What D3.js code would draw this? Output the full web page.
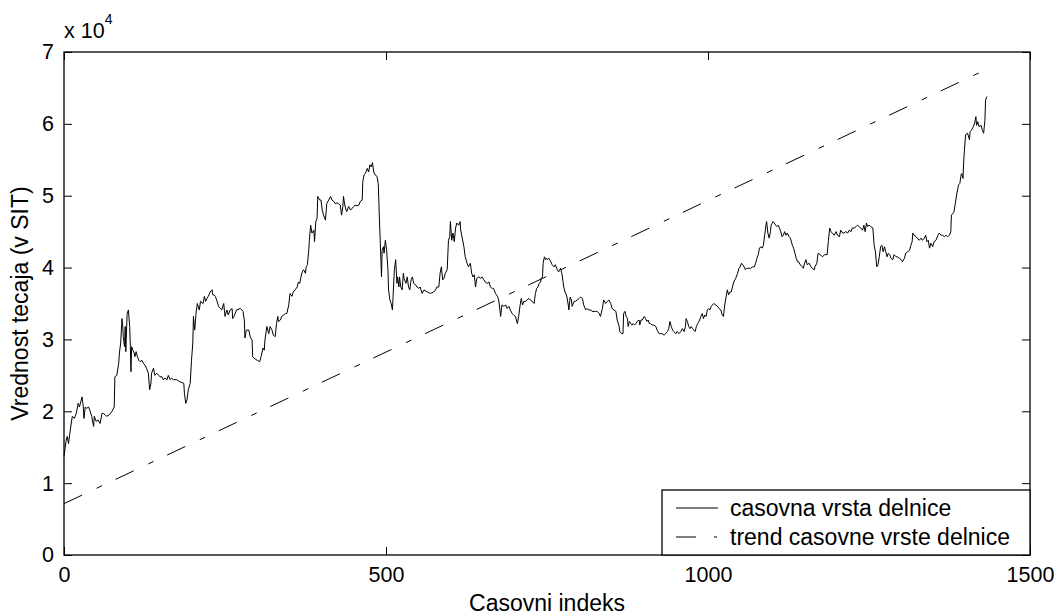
<!DOCTYPE html>
<html lang="sl">
<head>
  <meta charset="utf-8">
  <title>Casovna vrsta delnice</title>
  <script src="https://d3js.org/d3.v7.min.js"></script>
  <style>
    body { margin: 0; background: #fff; }
    text { font-family: "Liberation Sans", Arial, sans-serif; fill: #000; }
  </style>
</head>
<body>
<script>
// casovna vrsta: [indeks, vrednost v SIT] odcitano s slike
var priceSeries = [
  [0,13700],[3,15800],[5,16500],[7,15500],[9,16900],[12,18800],[13,19300],[16,19000],[19,19700],[21,20600],[22,21100],[24,20600],[26,21300],[28,22000],[30,20600],[31,19000],[33,20600],[35,20400],[38,20600],[40,20200],[43,19300],[46,17900],[47,19300],[50,18600],[53,18800],[56,18300],[59,19700],[61,19700],[64,19500],[66,19300],[70,19500],[74,19900],[78,20600],[79,24800],[82,25000],[85,26700],[86,28100],[88,29500],[90,32900],[91,32200],[92,30400],[94,29000],[95,31800],[96,28300],[98,33600],[100,34100],[102,31800],[103,29000],[104,25500],[105,29000],[107,28500],[109,28100],[110,27600],[112,28300],[114,27600],[116,27100],[118,26900],[121,27100],[123,26700],[126,26400],[128,26000],[131,25300],[133,23000],[135,23900],[136,25300],[139,26000],[141,25000],[144,25300],[147,25000],[149,24800],[152,24800],[154,24400],[157,24600],[160,24400],[162,25000],[165,24400],[167,24600],[170,24400],[175,24400],[180,24100],[186,23900],[187,22500],[189,21100],[191,21600],[193,23000],[196,23900],[198,27100],[200,29500],[201,33200],[203,31300],[205,33600],[207,35000],[210,34100],[212,35300],[216,35000],[218,36000],[220,35300],[222,35700],[224,36000],[227,36600],[230,36900],[231,36200],[233,36200],[235,36000],[237,35500],[240,34600],[243,34300],[245,34100],[248,35000],[250,33200],[253,34100],[255,33400],[258,34100],[261,34300],[262,32900],[264,33200],[268,34100],[274,34300],[278,33900],[280,32700],[281,30200],[283,31300],[287,31300],[289,30400],[292,29900],[293,27600],[295,27400],[300,27100],[304,26900],[306,27600],[309,28800],[311,28500],[312,29900],[315,31800],[318,30800],[320,31800],[323,31300],[325,30600],[328,30400],[330,32200],[332,33200],[333,32500],[336,32700],[338,33200],[341,33400],[344,33600],[346,33600],[349,34800],
  [351,36400],[354,36000],[356,36600],[359,36900],[362,37300],[364,38000],[366,37800],[368,38700],[370,39400],[372,39700],[375,39200],[376,40100],[378,40400],[380,42400],[381,43800],[383,45900],[385,44800],[388,45200],[389,43600],[391,46400],[393,46900],[394,49900],[397,49400],[399,49400],[401,48000],[403,47300],[406,46600],[408,48900],[411,49400],[414,49900],[416,49400],[419,49200],[421,48900],[424,49000],[426,48900],[429,48700],[431,47300],[433,48500],[434,49900],[436,48700],[438,48000],[439,47800],[442,48500],[445,48000],[447,48200],[450,48500],[452,48700],[455,48600],[458,48700],[460,49200],[463,49400],[464,52000],[466,52900],[468,53100],[471,53800],[473,53300],[475,54300],[477,54000],[479,54600],[481,53300],[483,52900],[486,52700],[488,51700],[489,48900],[490,46200],[491,43800],[493,38700],[494,42400],[496,42900],[497,42000],[499,43800],[501,42400],[503,39700],[504,36900],[506,35500],[508,35000],[510,34100],[511,36000],[513,39700],[515,41100],[517,37800],[518,38700],[520,37300],[521,38700],[523,37300],[525,36900],[527,39200],[528,38500],[531,37800],[533,38700],[535,37300],[537,36900],[539,38300],[541,38700],[543,37800],[546,37600],[548,37300],[551,37100],[553,37300],[556,36400],[559,36900],[564,36600],[569,36400],[574,36600],[577,36900],[579,37300],[582,37300],[584,39200],[586,40100],[588,38300],[590,38500],[592,39200],[595,39700],[597,43800],[599,44300],[600,46400],[602,43800],[604,44800],[606,43600],[608,45500],[610,46200],[613,45900],[615,46400],[616,45200],[618,44300],[621,42900],[623,41500],[626,40600],[628,40100],[631,40600],[633,39200],[635,38700],[637,39000],[639,37300],[641,38500],[644,38700],[647,38500],[649,38700],[652,38300],[654,38000],[657,37800],[660,38000],[662,37300],[665,37100],[667,37100],[670,36400],[673,36000],[675,35500],[678,33200],[680,34800],[683,34600],[686,34800],[688,34300],[691,34600],[693,34100],[696,33600],[698,33400],[701,33200],[704,32200],[706,33200],[708,34600],[710,35700],[712,34800],[714,35300],[717,35300],[719,35500],[722,35700],
  [724,35500],[727,35300],[730,35000],[731,35700],[732,36400],[734,37100],[736,37300],[738,37800],[740,38000],[741,38500],[743,38700],[744,40600],[746,41500],[748,41100],[749,41300],[751,41100],[753,41300],[754,41100],[756,40800],[758,40400],[761,40100],[763,40400],[766,39700],[768,39400],[771,39900],[773,39200],[775,38000],[776,37300],[778,36600],[780,36200],[781,35900],[783,34800],[784,34100],[786,35900],[788,35500],[789,34600],[792,35300],[794,35300],[797,35500],[800,35700],[802,35900],[805,35700],[807,34800],[810,34100],[812,34300],[815,34100],[818,34100],[820,33900],[823,33900],[825,33900],[828,33900],[831,33600],[833,33200],[836,34300],[838,35500],[841,35000],[844,35300],[846,35500],[849,35000],[851,34300],[854,34100],[857,33900],[859,32700],[862,31800],[863,31100],[866,30800],[868,30800],[869,33600],[871,33900],[873,33200],[875,32900],[876,31800],[878,32500],[880,32200],[882,32000],[884,32200],[886,32000],[888,32200],[890,32500],[893,32700],[894,32000],[896,32700],[898,32700],[901,33200],[903,32900],[905,32500],[907,32700],[909,32200],[911,32200],[913,32000],[916,32000],[919,31800],[921,31300],[924,30800],[926,30800],[929,30800],[932,30600],[934,30800],[937,31100],[939,31500],[941,32500],[943,31800],[945,31300],[947,31100],[950,30800],[952,31100],[955,30800],[958,31100],[960,31500],[963,31100],[965,31800],[966,32900],[968,32500],[970,31800],[972,31500],[974,31800],[976,31500],[978,31300],[980,31100],[982,31800],[984,32200],[987,32700],[989,33200],[991,33600],[993,32900],[995,33400],[997,33200],[999,34100],[1001,34300],[1003,34100],[1005,34600],[1007,34800],[1009,35000],[1012,34800],[1015,34600],[1017,34300],[1020,34100],[1022,33400],[1024,33200],[1026,34800],[1028,35900],[1030,36900],[1032,36200],[1034,36600],[1036,36600],[1038,37300],[1040,38000],[1043,38500],[1046,39200],[1048,39900],[1050,40100],[1052,40600],[1054,40400],[1056,40100],[1058,39700],[1060,39900],[1062,39900],[1064,39900],[1066,39900],[1069,40100],[1072,40100],[1074,40600],[1076,41300],[1078,41800],[1080,42700],[1082,42900],[1084,42700],[1086,43100],[1088,44500],[1090,45900],[1091,46400],[1093,44800],[1095,44100],[1097,45000],[1098,45900],[1101,46400],[1103,46200],[1105,45900],[1107,45700],[1109,45900],[1111,45500],[1113,45000],[1115,44300],[1117,44500],[1119,45000],[1121,44500],[1123,44800],[1126,44300],[1128,44100],[1131,43100],[1133,42700],[1135,42000],[1137,41300],[1139,40800],[1141,40800],[1143,40400],
  [1147,40100],[1148,39900],[1150,40600],[1152,41100],[1154,40400],[1157,40600],[1160,40100],[1162,39900],[1165,39700],[1166,40100],[1169,40600],[1171,42000],[1174,41800],[1178,41500],[1181,41800],[1185,41800],[1187,43800],[1189,45500],[1191,45000],[1193,44800],[1196,44500],[1199,45000],[1201,44500],[1204,44300],[1206,45200],[1209,44800],[1211,44800],[1214,45000],[1217,44800],[1219,45200],[1222,45000],[1224,45500],[1227,45500],[1230,45700],[1232,45900],[1235,45700],[1237,45500],[1240,45200],[1242,45900],[1244,45000],[1246,46200],[1248,45700],[1250,45900],[1253,45700],[1256,45500],[1258,43100],[1260,42200],[1262,40100],[1264,40400],[1266,41500],[1268,42900],[1270,43100],[1272,42200],[1274,42900],[1276,42200],[1278,41500],[1280,42000],[1282,41800],[1284,41300],[1287,41100],[1289,41800],[1292,41500],[1294,41500],[1297,41300],[1300,41100],[1302,40800],[1305,41300],[1307,42000],[1310,42200],[1313,42400],[1315,43100],[1317,43600],[1318,44800],[1320,44500],[1323,44300],[1325,44100],[1328,43800],[1331,44100],[1333,43800],[1336,44100],[1338,44500],[1340,43600],[1342,43800],[1344,42700],[1346,43400],[1349,42900],[1351,43600],[1354,43800],[1357,44500],[1359,44800],[1362,44500],[1364,44500],[1367,44300],[1370,44500],[1372,44300],[1375,44500],[1377,45000],[1378,47300],[1380,47500],[1382,47800],[1384,48900],[1386,50100],[1388,51000],[1389,51500],[1391,51700],[1393,52900],[1394,53100],[1396,52400],[1397,54700],[1398,56100],[1400,58500],[1403,58700],[1406,57800],[1407,58900],[1409,59100],[1412,59600],[1414,60100],[1416,61000],[1417,59800],[1419,60300],[1421,59600],[1424,59800],[1426,59100],[1428,58700],[1430,60500],[1431,63300],[1433,63800]
];

// trend (zacetek in konec premice)
var trendIdx = [0, 1433];
var trendVal = [7150, 67600];

var xTicks = [0, 500, 1000, 1500];
var yTicks = [0, 10000, 20000, 30000, 40000, 50000, 60000, 70000];
var legendLabels = ["casovna vrsta delnice", "trend casovne vrste delnice"];

function drawChart() {
  var w = 1057, h = 616;
  var mL = 64, mR = 1030, mT = 52, mB = 555;

  var x = d3.scaleLinear().domain([0, 1500]).range([mL, mR]);
  var y = d3.scaleLinear().domain([0, 70000]).range([mB, mT]);

  var svg = d3.select("body").append("svg")
    .attr("width", w)
    .attr("height", h);

  svg.append("rect")
    .attr("width", w).attr("height", h).attr("fill", "#fff");

  // osi (kljukice navznoter kot v matlabu)
  function styleAxis(g) {
    g.select(".domain").remove();
    g.selectAll(".tick line").attr("stroke", "#000").attr("stroke-width", 1);
    g.selectAll(".tick text")
      .style("font-family", "Liberation Sans, Arial, sans-serif")
      .style("font-size", "21.5px")
      .attr("fill", "#000");
  }

  svg.append("g")
    .attr("transform", "translate(0," + mB + ")")
    .call(d3.axisBottom(x).tickValues(xTicks).tickSize(-8).tickPadding(12).tickFormat(d3.format("d")))
    .call(styleAxis);

  svg.append("g")
    .attr("transform", "translate(0," + mT + ")")
    .call(d3.axisTop(x).tickValues(xTicks).tickSize(-8).tickFormat(""))
    .call(styleAxis);

  svg.append("g")
    .attr("transform", "translate(" + mL + ",0)")
    .call(d3.axisLeft(y).tickValues(yTicks).tickSize(-8).tickPadding(10).tickFormat(function(d) { return d / 10000; }))
    .call(styleAxis);

  svg.append("g")
    .attr("transform", "translate(" + mR + ",0)")
    .call(d3.axisRight(y).tickValues(yTicks).tickSize(-8).tickFormat(""))
    .call(styleAxis);

  svg.append("rect")
    .attr("x", mL).attr("y", mT)
    .attr("width", mR - mL).attr("height", mB - mT)
    .attr("fill", "none").attr("stroke", "#000").attr("stroke-width", 1.3);

  // crte
  var line = d3.line()
    .x(function(d) { return x(d[0]); })
    .y(function(d) { return y(d[1]); });

  svg.append("path")
    .datum(priceSeries)
    .attr("d", line)
    .attr("fill", "none")
    .attr("stroke", "#000")
    .attr("stroke-width", 1);

  svg.append("path")
    .datum(d3.zip(trendIdx, trendVal))
    .attr("d", line)
    .attr("fill", "none")
    .attr("stroke", "#000")
    .attr("stroke-width", 1)
    .attr("stroke-dasharray", "20,16,6,15");

  // faktor x 10^4
  var mult = svg.append("text")
    .attr("x", mL)
    .attr("y", 38)
    .style("font-size", "21.5px");
  mult.append("tspan").text("x 10");
  mult.append("tspan").attr("dy", -14).style("font-size", "14px").text("4");

  // oznake osi
  svg.append("text")
    .attr("x", (mL + mR) / 2)
    .attr("y", 611)
    .attr("text-anchor", "middle")
    .style("font-size", "23px")
    .text("Casovni indeks");

  svg.append("text")
    .attr("transform", "translate(28," + ((mT + mB) / 2) + ") rotate(-90)")
    .attr("text-anchor", "middle")
    .style("font-size", "23px")
    .text("Vrednost tecaja (v SIT)");

  // legenda
  var legend = svg.append("g");
  legend.append("rect")
    .attr("x", 662).attr("y", 490)
    .attr("width", mR - 662).attr("height", mB - 490)
    .attr("fill", "#fff").attr("stroke", "#000").attr("stroke-width", 1.3);

  var dashes = [null, "20,18,3,40"];
  legendLabels.forEach(function(lab, i) {
    var ly = 508 + i * 29;
    legend.append("line")
      .attr("x1", 676).attr("x2", 718)
      .attr("y1", ly).attr("y2", ly)
      .attr("stroke", "#000").attr("stroke-width", 1)
      .attr("stroke-dasharray", dashes[i]);
    legend.append("text")
      .attr("x", 730).attr("y", ly + 8)
      .style("font-size", "23px")
      .text(lab);
  });
}

drawChart();
</script>
</body>
</html>
